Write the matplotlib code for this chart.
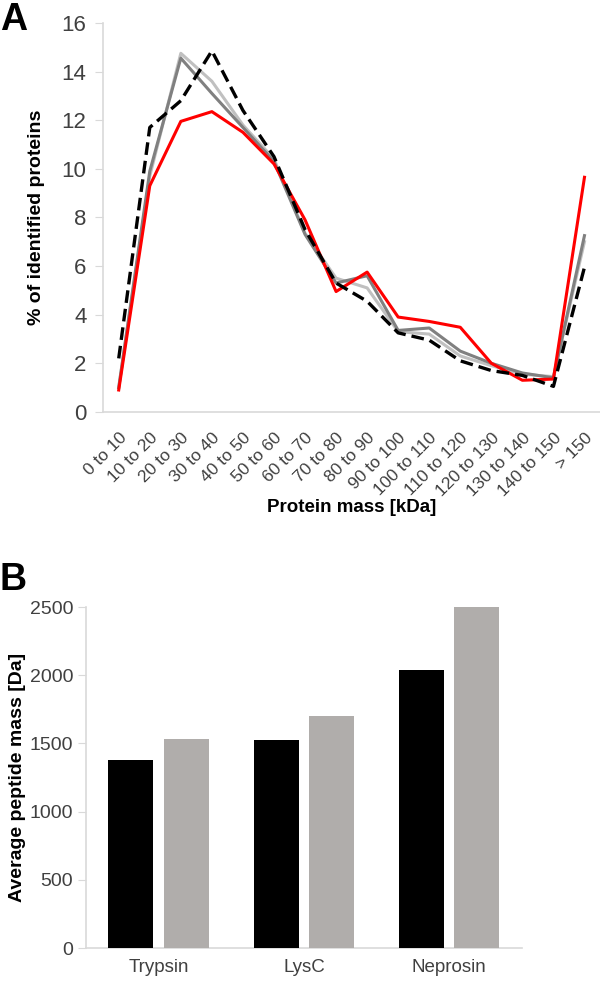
import numpy as np
import matplotlib.pyplot as plt

plt.rcParams['font.family'] = ['Liberation Sans', 'DejaVu Sans']

# ---- panel A data ----
mass_bins = ['0 to 10', '10 to 20', '20 to 30', '30 to 40', '40 to 50', '50 to 60',
             '60 to 70', '70 to 80', '80 to 90', '90 to 100', '100 to 110',
             '110 to 120', '120 to 130', '130 to 140', '140 to 150', '> 150']
red_vals = [0.9, 9.3, 11.95, 12.35, 11.5, 10.2, 7.9, 4.95, 5.75, 3.9, 3.72, 3.48, 2.0, 1.3, 1.35, 9.65]
dark_vals = [1.0, 9.9, 14.55, 13.1, 11.7, 10.3, 7.3, 5.3, 5.6, 3.35, 3.45, 2.5, 2.0, 1.6, 1.4, 7.25]
light_vals = [1.0, 9.7, 14.75, 13.6, 11.8, 10.4, 7.35, 5.5, 5.1, 3.3, 3.2, 2.3, 1.9, 1.55, 1.45, 7.0]
dash_vals = [2.2, 11.7, 12.8, 14.85, 12.4, 10.5, 7.5, 5.3, 4.55, 3.25, 2.95, 2.1, 1.7, 1.5, 1.05, 5.95]

# ---- panel B data ----
enzymes = ['Trypsin', 'LysC', 'Neprosin']
black_bars = [1380, 1525, 2040]
gray_bars = [1530, 1700, 2500]

axis_col = '#d9d9d9'
txt_col = '#404040'

fig = plt.figure(figsize=(6, 9.83), dpi=100)

# ------------------- A -------------------
ax1 = fig.add_axes([0.172, 0.581, 0.828, 0.3957])
x = np.arange(len(mass_bins))
ax1.plot(x, light_vals, color='#c0c0c0', lw=2.2, zorder=2)
ax1.plot(x, dark_vals, color='#808080', lw=2.2, zorder=3)
ax1.plot(x, red_vals, color='#ff0000', lw=2.2, zorder=4)
ax1.plot(x, dash_vals, color='black', lw=2.4, ls=(0, (3.8, 1.8)), zorder=5)

ax1.set_xlim(-0.5, len(mass_bins) - 0.5)
ax1.set_ylim(0, 16)
ax1.set_yticks(np.arange(0, 17, 2))
ax1.set_xticks(x)
ax1.set_xticklabels(mass_bins, rotation=45, ha='right', va='top',
                    rotation_mode='anchor', fontsize=12.5, color=txt_col)
ax1.tick_params(axis='x', length=0, pad=13)
ax1.tick_params(axis='y', length=6, color=axis_col, labelsize=16,
                labelcolor=txt_col, pad=6)
for s in ['top', 'right']:
    ax1.spines[s].set_visible(False)
for s in ['left', 'bottom']:
    ax1.spines[s].set_color(axis_col)
    ax1.spines[s].set_linewidth(1.2)
ax1.set_ylabel('% of identified proteins', fontsize=14, fontweight='bold', labelpad=12)
ax1.set_xlabel('Protein mass [kDa]', fontsize=13.5, fontweight='bold', labelpad=0)
fig.text(0.0, 0.998, 'A', fontsize=27, fontweight='bold', va='top', ha='left')

# ------------------- B -------------------
ax2 = fig.add_axes([0.143, 0.0356, 0.727, 0.3469])
xb = np.arange(len(enzymes))
w = 0.31
ax2.bar(xb - 0.19, black_bars, width=w, color='black', zorder=3)
ax2.bar(xb + 0.19, gray_bars, width=w, color='#b0adab', zorder=3)
ax2.set_xlim(-0.5, len(enzymes) - 0.5)
ax2.set_ylim(0, 2500)
ax2.set_yticks(np.arange(0, 2501, 500))
ax2.set_xticks(xb)
ax2.set_xticklabels(enzymes, fontsize=13.5, color=txt_col)
ax2.tick_params(axis='x', length=0, pad=8)
ax2.tick_params(axis='y', length=6, color=axis_col, labelsize=14,
                labelcolor=txt_col, pad=3)
for s in ['top', 'right']:
    ax2.spines[s].set_visible(False)
for s in ['left', 'bottom']:
    ax2.spines[s].set_color(axis_col)
    ax2.spines[s].set_linewidth(1.2)
ax2.set_ylabel('Average peptide mass [Da]', fontsize=14, fontweight='bold', labelpad=3)
fig.text(0.0, 0.428, 'B', fontsize=27, fontweight='bold', va='top', ha='left')

fig.savefig('out.png', dpi=100)
